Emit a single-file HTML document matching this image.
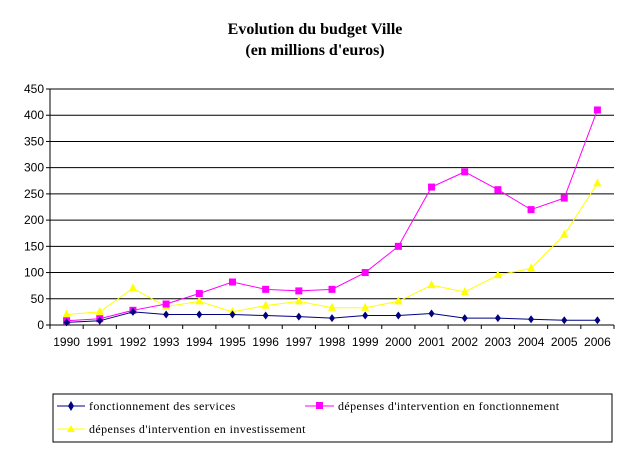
<!DOCTYPE html>
<html><head><meta charset="utf-8"><style>
body{margin:0;background:#fff;}
svg text{font-family:"Liberation Sans",sans-serif;}
</style></head><body>
<svg id="c" width="630" height="452" xmlns="http://www.w3.org/2000/svg">
<text x="315" y="34" text-anchor="middle" style="font-family:'Liberation Serif',serif;font-weight:bold;font-size:16px">Evolution du budget Ville</text>
<text x="315" y="55" text-anchor="middle" style="font-family:'Liberation Serif',serif;font-weight:bold;font-size:16px">(en millions d'euros)</text>
<g id="grid"></g><g id="series"></g>
<rect x="53" y="394" width="559" height="48" fill="none" stroke="#000"/>
<g>
<line x1="57" y1="406" x2="85" y2="406" stroke="#000080"/><path d="M71 401 L74 406 L71 411 L68 406Z" fill="#000080"/>
<text x="89" y="410" style="font-family:'Liberation Serif',serif;font-size:12px;letter-spacing:0.4px">fonctionnement des services</text></g>
<g>
<line x1="305" y1="406" x2="334" y2="406" stroke="#ff00ff"/><rect x="316" y="402" width="7" height="7" fill="#ff00ff"/>
<text x="338" y="410" style="font-family:'Liberation Serif',serif;font-size:12px;letter-spacing:0.4px">dépenses d'intervention en fonctionnement</text></g>
<g>
<line x1="57" y1="429" x2="85" y2="429" stroke="#ffff00"/><path d="M71 425 L75 432 L67 432Z" fill="#ffff00"/>
<text x="89" y="433" style="font-family:'Liberation Serif',serif;font-size:12px;letter-spacing:0.4px">dépenses d'intervention en investissement</text></g>
</svg>
<script>
const years=["1990","1991","1992","1993","1994","1995","1996","1997","1998","1999","2000","2001","2002","2003","2004","2005","2006"];
const fonctionnement=[5,8,25,20,20,20,18,16,13,18,18,22,13,13,11,9,9];
const interventionFonct=[8,12,28,40,60,82,68,65,68,100,150,263,292,258,220,242,410];
const interventionInvest=[20,25,70,35,45,25,37,45,33,33,45,76,63,95,108,172,270];
const yTicks=[0,50,100,150,200,250,300,350,400,450];
const NS="http://www.w3.org/2000/svg";
const L=50,R=614,T=89,B=325;
const step=(R-L)/years.length;
const xs=i=>L+step*(i+0.5);
const ys=v=>B-(v/450)*(B-T);
function mk(t,a,p){const e=document.createElementNS(NS,t);for(const k in a)e.setAttribute(k,a[k]);p.appendChild(e);return e;}
const g=document.getElementById('grid');
yTicks.forEach(v=>{
 const l=mk('line',{x1:L,x2:R,y1:ys(v),y2:ys(v),stroke:'#000'},g);
 
 
 mk('line',{x1:L-4,x2:L,y1:ys(v),y2:ys(v),stroke:'#000'},g);
 const t=mk('text',{x:L-6,y:ys(v)+4,'text-anchor':'end','font-size':'12'},g);t.textContent=v;
 
 
});
mk('line',{x1:L,x2:L,y1:T,y2:B,stroke:'#000'},g);
years.forEach((y,i)=>{
 mk('line',{x1:L+step*i,x2:L+step*i,y1:B,y2:B+4,stroke:'#000'},g);
 const t=mk('text',{x:xs(i),y:B+21,'text-anchor':'middle','font-size':'12'},g);t.textContent=y;
 
 
});
mk('line',{x1:R,x2:R,y1:B,y2:B+4,stroke:'#000'},g);
const s=document.getElementById('series');
function series(d,col,shape,name){
 const grp=mk('g',{},s);
 
 
 mk('polyline',{points:d.map((v,i)=>xs(i)+','+ys(v)).join(' '),fill:'none',stroke:col,'stroke-width':1},grp);
 d.forEach((v,i)=>{
  const x=xs(i),y=ys(v);let m;
  if(shape==='d')m=mk('path',{d:`M${x} ${y-4}L${x+3} ${y}L${x} ${y+4}L${x-3} ${y}Z`,fill:col},grp);
  else if(shape==='s')m=mk('rect',{x:x-3.5,y:y-3.5,width:7,height:7,fill:col},grp);
  else m=mk('path',{d:`M${x} ${y-5}L${x+4} ${y+3}L${x-4} ${y+3}Z`,fill:col},grp);
  
  
 });
}
series(interventionInvest,'#ffff00','t','series-intervention-investissement');
series(interventionFonct,'#ff00ff','s','series-intervention-fonctionnement');
series(fonctionnement,'#000080','d','series-fonctionnement');
</script>
</body></html>
